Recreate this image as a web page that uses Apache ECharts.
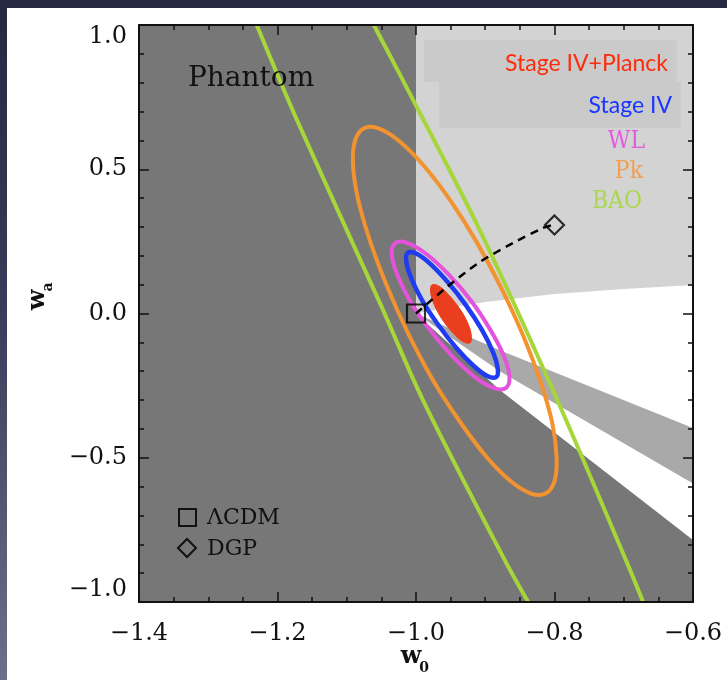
<!DOCTYPE html>
<html><head><meta charset="utf-8">
<script src="https://cdn.jsdelivr.net/npm/echarts@6/dist/echarts.min.js"></script>
<style>
html,body{margin:0;padding:0;width:727px;height:680px;overflow:hidden;
background:linear-gradient(to bottom,#262741 0%,#3a3b58 45%,#6e6f8a 100%);}
#panel{position:absolute;left:7px;top:8px;width:720px;height:672px;background:#fff;}
#chart{position:absolute;left:0;top:0;width:727px;height:680px;}
</style></head>
<body><div id="panel"></div><div id="chart"></div>
<script>
// ---- data (w0, wa) ----
const phantomW0 = [-1.4, -1.0, -1.0, -0.879, -0.6, -0.6, -1.4];
const phantomWa = [1.0, 1.0, 0.0, -0.265, -0.785, -1.0, -1.0];
const lightW0 = [-1.0, -0.6, -0.6, -0.7, -0.8, -0.9, -0.95, -1.0];
const lightWa = [1.0, 1.0, 0.099, 0.085, 0.068, 0.040, 0.022, 0.0];
const bandW0 = [-1.0, -0.879, -0.6, -0.6, -0.879];
const bandWa = [0.0, -0.127, -0.397, -0.589, -0.20];

const bao1W0 = [-1.230, -1.172, -1.052, -0.990, -0.872, -0.838];
const bao1Wa = [1.000, 0.671, 0.036, -0.300, -0.854, -1.000];
const bao2W0 = [-1.061, -1.023, -0.908, -0.796, -0.697, -0.672];
const bao2Wa = [1.000, 0.827, 0.289, -0.300, -0.854, -1.000];

const pkW0 = [-0.813,-0.800,-0.797,-0.803,-0.820,-0.845,-0.877,-0.913,-0.951,-0.989,-1.024,-1.053,
              -1.075,-1.088,-1.091,-1.084,-1.067,-1.042,-1.011,-0.975,-0.936,-0.899,-0.864,-0.834];
const pkWa = [-0.624,-0.582,-0.499,-0.382,-0.238,-0.078,0.089,0.250,0.394,0.513,0.597,0.641,
              0.642,0.599,0.516,0.400,0.256,0.095,-0.071,-0.233,-0.377,-0.495,-0.580,-0.624];

const wlW0 = [-0.870,-0.865,-0.873,-0.893,-0.921,-0.954,-0.986,-1.013,-1.030,-1.035,-1.027,-1.008,-0.979,-0.946,-0.914,-0.887];
const wlWa = [-0.258,-0.219,-0.148,-0.055,0.046,0.138,0.208,0.245,0.244,0.205,0.134,0.041,-0.060,-0.152,-0.222,-0.259];

const s4W0 = [-0.884,-0.882,-0.889,-0.905,-0.928,-0.954,-0.979,-0.999,-1.012,-1.014,-1.007,-0.991,-0.968,-0.942,-0.917,-0.897];
const s4Wa = [-0.220,-0.191,-0.133,-0.056,0.029,0.108,0.171,0.207,0.210,0.180,0.123,0.045,-0.039,-0.119,-0.181,-0.217];

const s4pW0 = [-0.922,-0.920,-0.925,-0.937,-0.953,-0.967,-0.977,-0.979,-0.974,-0.962,-0.946,-0.932];
const s4pWa = [-0.102,-0.079,-0.035,0.017,0.065,0.095,0.099,0.076,0.032,-0.021,-0.069,-0.098];

const dgpPathW0 = [-1.0,-0.955,-0.908,-0.860,-0.817,-0.805];
const dgpPathWa = [0.0,0.092,0.178,0.244,0.296,0.305];

const lcdmPoint = [-1.0, 0.0];
const dgpPoint = [-0.8, 0.307];

// ---- helpers ----
function pairs(xs, ys){ return xs.map((x,i)=>[x, ys[i]]); }
function shapeSeries(xs, ys, kind, style, z, smooth){
  const data = pairs(xs, ys);
  return {
    type:'custom', coordinateSystem:'cartesian2d', xAxisIndex:0, yAxisIndex:0,
    data: data, encode:{x:0,y:1}, z: z, silent:true, animation:false,
    renderItem: function(params, api){
      if (params.dataIndex !== 0) return null;
      const pts = data.map(d => api.coord(d));
      return { type: kind, shape:{points: pts, smooth: smooth || 0}, style: style };
    }
  };
}
function fmt(v){
  const s = Math.abs(v).toFixed(1);
  return v < -1e-9 ? '\u2212' + s : s;
}
const SERIF = '"DejaVu Serif"';
const tickCommon = {inside:true, length:10, lineStyle:{color:'#111', width:1.5}};
const lineCommon = {onZero:false, lineStyle:{color:'#111', width:2}};

const chart = echarts.init(document.getElementById('chart'), null, {renderer:'canvas'});
const xBase = {type:'value', min:-1.4, max:-0.6, interval:0.2, z:10,
  axisLine: lineCommon, axisTick: tickCommon,
  minorTick:{show:true, splitNumber:4, length:5, lineStyle:{color:'#111', width:1.5}},
  splitLine:{show:false}, minorSplitLine:{show:false}};
const yBase = {type:'value', min:-1.0, max:1.0, interval:0.5, z:10,
  axisLine: lineCommon, axisTick: tickCommon,
  minorTick:{show:true, splitNumber:5, length:5, lineStyle:{color:'#111', width:1.5}},
  splitLine:{show:false}, minorSplitLine:{show:false}};

const option = {
  animation:false,
  backgroundColor:'transparent',
  grid:{left:139, right:34, top:25, bottom:78},
  xAxis:[
    Object.assign({}, xBase, {position:'bottom',
      axisLabel:{formatter:fmt, fontFamily:SERIF, fontSize:24, color:'#111', margin:20}}),
    Object.assign({}, xBase, {position:'top', axisLabel:{show:false}})
  ],
  yAxis:[
    Object.assign({}, yBase, {position:'left',
      axisLabel:{formatter:fmt, fontFamily:SERIF, fontSize:24, color:'#111', margin:12,
        verticalAlignMaxLabel:'top', verticalAlignMinLabel:'bottom'}}),
    Object.assign({}, yBase, {position:'right', axisLabel:{show:false}})
  ],
  series:[
    shapeSeries(lightW0, lightWa, 'polygon', {fill:'#d3d3d3'}, 1),
    shapeSeries(bandW0, bandWa, 'polygon', {fill:'#a9a9a9'}, 1),
    shapeSeries(phantomW0, phantomWa, 'polygon', {fill:'#777777'}, 1),
    shapeSeries(pkW0, pkWa, 'polygon', {fill:null, stroke:'#f29330', lineWidth:4}, 3, 0.35),
    shapeSeries(bao1W0, bao1Wa, 'polyline', {fill:null, stroke:'#a6d63a', lineWidth:4}, 4, 0.3),
    shapeSeries(bao2W0, bao2Wa, 'polyline', {fill:null, stroke:'#a6d63a', lineWidth:4}, 4, 0.3),
    shapeSeries(wlW0, wlWa, 'polygon', {fill:null, stroke:'#e552dc', lineWidth:4}, 5, 0.35),
    shapeSeries(s4W0, s4Wa, 'polygon', {fill:null, stroke:'#1f3cf2', lineWidth:4.5}, 6, 0.35),
    shapeSeries(s4pW0, s4pWa, 'polygon', {fill:'#ea3f1f', stroke:'#ea3f1f', lineWidth:1}, 7, 0.35),
    shapeSeries(dgpPathW0, dgpPathWa, 'polyline', {fill:null, stroke:'#000', lineWidth:2.5, lineDash:[8,6]}, 8, 0.3),
    {type:'scatter', data:[lcdmPoint], symbol:'rect', symbolSize:18, z:9, silent:true,
      itemStyle:{color:'rgba(0,0,0,0)', borderColor:'#000', borderWidth:2.2}},
    {type:'scatter', data:[dgpPoint], symbol:'diamond', symbolSize:[19,19], z:9, silent:true,
      itemStyle:{color:'rgba(0,0,0,0)', borderColor:'#000', borderWidth:2.2}}
  ],
  graphic:[
    {type:'rect', z:50, shape:{x:424, y:40, width:253, height:42}, style:{fill:'#cacaca'}},
    {type:'rect', z:50, shape:{x:439, y:82, width:242, height:46}, style:{fill:'#cacaca'}},
    {type:'text', z:60, x:668, y:64, style:{text:'Stage IV+Planck', font:'23px Lato', fill:'#ff2b0a', textAlign:'right', textVerticalAlign:'middle'}},
    {type:'text', z:60, x:672, y:106, style:{text:'Stage IV', font:'23px Lato', fill:'#1a35ff', textAlign:'right', textVerticalAlign:'middle'}},
    {type:'text', z:60, x:645, y:142, scaleY:1.1, style:{text:'WL', font:'22px '+SERIF, fill:'#e35ae0', textAlign:'right', textVerticalAlign:'middle'}},
    {type:'text', z:60, x:643, y:172, scaleY:1.1, style:{text:'Pk', font:'22px '+SERIF, fill:'#f0a050', textAlign:'right', textVerticalAlign:'middle'}},
    {type:'text', z:60, x:642, y:202, scaleY:1.1, style:{text:'BAO', font:'22px '+SERIF, fill:'#a9d84e', textAlign:'right', textVerticalAlign:'middle'}},
    {type:'text', z:60, x:188, y:79, style:{text:'Phantom', font:'28px '+SERIF, fill:'#111', textAlign:'left', textVerticalAlign:'middle'}},
    {type:'rect', z:60, shape:{x:179, y:509, width:17, height:17}, style:{fill:null, stroke:'#111', lineWidth:2}},
    {type:'polygon', z:60, shape:{points:[[187,539],[196,548],[187,557],[178,548]]}, style:{fill:null, stroke:'#111', lineWidth:2}},
    {type:'text', z:60, x:207, y:518, style:{text:'\u039BCDM', font:'22px '+SERIF, fill:'#111', textAlign:'left', textVerticalAlign:'middle'}},
    {type:'text', z:60, x:207, y:549, style:{text:'DGP', font:'22px '+SERIF, fill:'#111', textAlign:'left', textVerticalAlign:'middle'}},
    {type:'text', z:60, x:411, y:657, style:{text:'w', font:'bold 24px '+SERIF, fill:'#111', textAlign:'center', textVerticalAlign:'middle'}},
    {type:'text', z:60, x:424, y:668, style:{text:'0', font:'bold 14px '+SERIF, fill:'#111', textAlign:'center', textVerticalAlign:'middle'}},
    {type:'group', z:60, x:38, y:300, rotation:Math.PI/2, children:[
      {type:'text', z:60, x:0, y:0, style:{text:'w', font:'bold 24px '+SERIF, fill:'#111', textAlign:'center', textVerticalAlign:'middle'}},
      {type:'text', z:60, x:13, y:10, style:{text:'a', font:'bold 14px '+SERIF, fill:'#111', textAlign:'center', textVerticalAlign:'middle'}}
    ]}
  ]
};
chart.setOption(option);
</script>
</body></html>
